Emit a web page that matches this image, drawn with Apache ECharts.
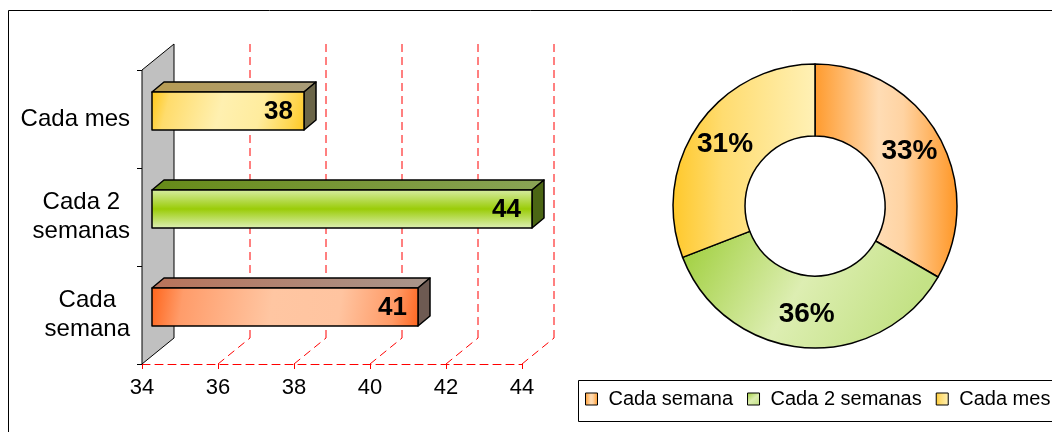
<!DOCTYPE html>
<html>
<head>
<meta charset="utf-8">
<script src="https://cdn.jsdelivr.net/npm/echarts@6/dist/echarts.min.js"></script>
<style>
  html, body { margin: 0; padding: 0; background: #ffffff; }
  #chart { width: 1052px; height: 432px; }
</style>
</head>
<body>
<div id="chart"></div>
<script>
// Frequency answers and their counts
const categories = ['Cada semana', 'Cada 2 semanas', 'Cada mes'];
const counts = [41, 44, 38];
// Wrapped category names as shown on the bar chart's axis
const axisLabelLines = [['Cada', 'semana'], ['Cada 2', 'semanas'], ['Cada mes']];
// Value axis ticks
const xTicks = [34, 36, 38, 40, 42, 44];

const FONT = '"Liberation Sans", Arial, sans-serif';

// Pseudo-3D geometry (pixels): back wall offset and bar depth slab
const WALL_DEPTH = [32, -26];
const BAR_NEAR = [10, -8];
const BAR_FAR = [22, -18];
const BAR_THICK_RATIO = 0.388;

function lin(x, y, x2, y2, stops) {
  return {
    type: 'linear', x: x, y: y, x2: x2, y2: y2,
    colorStops: stops.map(function (s) { return { offset: s[0], color: s[1] }; })
  };
}

const barStyles = {
  'Cada semana': {
    front: lin(0, 0, 1, 1, [[0, '#ff641a'], [0.12, '#ff9c6a'], [0.45, '#ffc6a2'], [0.7, '#ffc4a0'], [0.9, '#ff9a66'], [1, '#ff6620']]),
    top: lin(0, 0, 1, 0, [[0, '#b8735a'], [1, '#a8968c']]),
    side: '#6e5a52'
  },
  'Cada 2 semanas': {
    front: lin(0, 0, 0, 1, [[0, '#d8eda6'], [0.5, '#9acc08'], [1, '#e0f1ba']]),
    top: lin(0, 0, 1, 0, [[0, '#668a18'], [1, '#8aa456']]),
    side: '#4b6614'
  },
  'Cada mes': {
    front: lin(0, 0, 1, 1, [[0, '#ffc614'], [0.12, '#ffdc6c'], [0.45, '#fff0b0'], [0.7, '#ffec9e'], [0.9, '#ffd650'], [1, '#ffc820']]),
    top: lin(0, 0, 1, 0, [[0, '#b89c52'], [1, '#a89c7a']]),
    side: '#6b6548'
  }
};

const pieColors = {
  'Cada semana': lin(0, 0, 1, 0, [[0, '#ff9a2c'], [0.45, '#ffdcb4'], [0.62, '#ffd3a2'], [1, '#ff9624']]),
  'Cada 2 semanas': lin(0, 0, 0.8, 1, [[0, '#9ccd36'], [0.55, '#ddeeb2'], [1, '#c4e286']]),
  'Cada mes': lin(0, 0, 1, 0, [[0, '#ffc82a'], [0.35, '#ffdc70'], [1, '#fff1b6']])
};

const dashRed = { stroke: '#ff0000', lineWidth: 1, lineDash: [8, 5] };

// Side wall, floor diagonals and back-wall gridlines
function renderFrame(params, api) {
  const v = api.value(0);
  const nCat = categories.length;
  const bottomPt = api.coord([v, 0]);
  const topPt = api.coord([v, nCat - 1]);
  const band = api.size([0, 1])[1];
  const x = bottomPt[0];
  const yBottom = bottomPt[1] + band / 2;
  const yTop = topPt[1] - band / 2;
  const dx = WALL_DEPTH[0], dy = WALL_DEPTH[1];
  if (params.dataIndex === 0) {
    return {
      type: 'polygon',
      shape: { points: [[x, yTop], [x + dx, yTop + dy], [x + dx, yBottom + dy], [x, yBottom]] },
      style: { fill: '#c0c0c0', stroke: '#000000', lineWidth: 1 }
    };
  }
  return {
    type: 'group',
    children: [
      { type: 'line', shape: { x1: x, y1: yBottom, x2: x + dx, y2: yBottom + dy }, style: dashRed },
      { type: 'line', shape: { x1: x + dx, y1: yBottom + dy, x2: x + dx, y2: yTop + dy }, style: dashRed }
    ]
  };
}

// Extruded bar with its value label
function renderBar(params, api) {
  const v = api.value(0);
  const c = api.value(1);
  const name = categories[params.dataIndex];
  const st = barStyles[name];
  const base = api.coord([xTicks[0], c]);
  const end = api.coord([v, c]);
  const band = api.size([0, 1])[1];
  const h = band * BAR_THICK_RATIO;
  const x0 = base[0] + BAR_NEAR[0];
  const x1 = end[0] + BAR_NEAR[0];
  const yT = base[1] + BAR_NEAR[1] - h / 2;
  const yB = yT + h;
  const dx = BAR_FAR[0] - BAR_NEAR[0];
  const dy = BAR_FAR[1] - BAR_NEAR[1];
  const edge = { stroke: '#000000', lineWidth: 1.5, lineJoin: 'round' };
  return {
    type: 'group',
    children: [
      { type: 'polygon', shape: { points: [[x0, yT], [x1, yT], [x1 + dx, yT + dy], [x0 + dx, yT + dy]] },
        style: Object.assign({ fill: st.top }, edge) },
      { type: 'polygon', shape: { points: [[x1, yT], [x1 + dx, yT + dy], [x1 + dx, yB + dy], [x1, yB]] },
        style: Object.assign({ fill: st.side }, edge) },
      { type: 'rect', shape: { x: x0, y: yT, width: x1 - x0, height: h },
        style: Object.assign({ fill: st.front }, edge) },
      { type: 'text', z2: 10,
        style: {
          text: String(v), x: x1 - 11, y: yT + h / 2 + 1,
          align: 'right', verticalAlign: 'middle',
          textAlign: 'right', textVerticalAlign: 'middle',
          fill: '#000000', fontSize: 26, fontWeight: 'bold', fontFamily: FONT
        } }
    ]
  };
}

const chart = echarts.init(document.getElementById('chart'), null, { renderer: 'canvas' });

chart.setOption({
  animation: false,
  backgroundColor: '#ffffff',
  graphic: [
    { type: 'rect', z: -10, silent: true,
      shape: { x: 8.5, y: 10.5, width: 1200, height: 600 },
      style: { fill: 'none', stroke: '#000000', lineWidth: 1 } },
    { type: 'rect', z: -10, silent: true,
      shape: { x: 578.5, y: 380.5, width: 600, height: 41 },
      style: { fill: '#ffffff', stroke: '#000000', lineWidth: 1 } }
  ],
  grid: { left: 142, top: 70, width: 380, height: 294, containLabel: false },
  xAxis: {
    type: 'value',
    min: xTicks[0],
    max: xTicks[xTicks.length - 1],
    interval: 2,
    axisLine: { show: true, lineStyle: { color: '#ff0000', width: 1, type: [8, 5] } },
    axisTick: { show: true, length: 5, lineStyle: { color: '#ff0000', width: 1 } },
    splitLine: { show: false },
    axisLabel: { color: '#000000', fontSize: 22, fontFamily: FONT, margin: 13 }
  },
  yAxis: {
    type: 'category',
    data: categories,
    axisLine: { show: true, lineStyle: { color: '#000000', width: 1 } },
    axisTick: { show: true, length: 5, lineStyle: { color: '#000000', width: 1 } },
    splitLine: { show: false },
    axisLabel: {
      margin: 12,
      formatter: function (value, index) {
        return axisLabelLines[index].map(function (l) { return '{c|' + l + '}'; }).join('\n');
      },
      rich: {
        c: { align: 'center', fontSize: 24, lineHeight: 29, fontFamily: FONT, color: '#000000' }
      }
    }
  },
  legend: {
    data: categories,
    left: 585,
    top: 389,
    width: 700,
    padding: 0,
    itemWidth: 12,
    itemHeight: 12,
    itemGap: 14,
    icon: 'rect',
    itemStyle: { borderColor: '#000000', borderWidth: 1 },
    textStyle: { fontSize: 20, fontFamily: FONT, color: '#000000', padding: [0, 0, 0, 6] }
  },
  series: [
    {
      type: 'custom',
      name: 'frame',
      z: 1,
      silent: true,
      renderItem: renderFrame,
      encode: { x: 0, y: 1 },
      data: xTicks.map(function (v) { return [v, 0]; })
    },
    {
      type: 'custom',
      name: 'bars',
      z: 3,
      renderItem: renderBar,
      encode: { x: 0, y: 1 },
      data: counts.map(function (v, i) { return [v, i]; })
    },
    {
      type: 'pie',
      name: 'donut',
      center: [815, 206],
      radius: [70, 142],
      startAngle: 90,
      clockwise: true,
      percentPrecision: 0,
      avoidLabelOverlap: false,
      itemStyle: { borderColor: '#000000', borderWidth: 1.5 },
      label: {
        show: true,
        position: 'inside',
        formatter: '{d}%',
        color: '#000000',
        fontSize: 28,
        fontWeight: 'bold',
        fontFamily: FONT,
        textBorderWidth: 0
      },
      labelLine: { show: false },
      emphasis: { disabled: true },
      data: categories.map(function (name, i) {
        return { name: name, value: counts[i], itemStyle: { color: pieColors[name] } };
      })
    }
  ]
});
</script>
</body>
</html>
